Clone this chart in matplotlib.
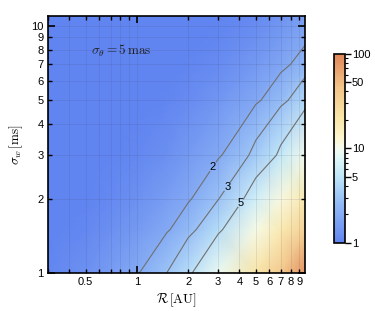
import numpy as np
import matplotlib
matplotlib.use('Agg')
import matplotlib.pyplot as plt
from matplotlib.colors import LinearSegmentedColormap, Normalize, LogNorm
from matplotlib.ticker import FixedLocator, FuncFormatter
import matplotlib.cm as cm

# Stuetzstellen
r_nodes = [0.3, 0.5, 0.7, 1.0, 1.5, 2.0, 3.0, 5.0, 7.0, 10.0]
sigma_nodes = [1.0, 1.5, 2.0, 3.0, 5.0, 7.0, 9.0, 11.0]
values = [
    [1.06, 1.26, 1.54, 1.93, 3.01, 4.49, 9.10, 21.0, 40.0, 89.0],
    [1.00, 1.09, 1.22, 1.48, 1.91, 2.58, 4.42, 10.6, 18.3, 34.9],
    [1.00, 1.03, 1.10, 1.25, 1.59, 1.90, 2.94, 6.27, 11.3, 20.3],
    [1.00, 1.00, 1.02, 1.08, 1.24, 1.47, 1.89, 3.33, 5.42, 10.3],
    [1.00, 1.00, 1.00, 1.00, 1.05, 1.14, 1.36, 1.87, 2.62, 4.20],
    [1.00, 1.00, 1.00, 1.00, 1.00, 1.05, 1.15, 1.45, 1.78, 2.45],
    [1.00, 1.00, 1.00, 1.00, 1.00, 1.00, 1.06, 1.22, 1.50, 1.88],
    [1.00, 1.00, 1.00, 1.00, 1.00, 1.00, 1.03, 1.12, 1.33, 1.62],
]
contour_levels = [2, 3, 5]
label_pos = [(2.88, 2.61), (3.38, 2.27), (4.09, 1.88)]
x_labels = {0.5: '0.5', 1: '1', 2: '2', 3: '3', 4: '4', 5: '5', 6: '6', 7: '7', 8: '8', 9: '9'}
y_labels = {1: '1', 2: '2', 3: '3', 4: '4', 5: '5', 6: '6', 7: '7', 8: '8', 9: '9', 10: '10'}
cbar_labels = {1: '1', 5: '5', 10: '10', 50: '50', 100: '100'}

# Farbskala aehnlich "TemperatureMap"
cmap = LinearSegmentedColormap.from_list('temp', [
    (0.00, '#6084f0'),
    (0.15, '#86acf4'),
    (0.24, '#9cc4f6'),
    (0.35, '#bfe6f8'),
    (0.45, '#e0f8f8'),
    (0.50, '#f4fbee'),
    (0.56, '#fdf5cc'),
    (0.66, '#f9e6a8'),
    (0.82, '#f2c68a'),
    (1.00, '#e08658'),
])

plt.rcParams['font.family'] = ['Liberation Sans', 'DejaVu Sans']
plt.rcParams['mathtext.fontset'] = 'cm'

fig = plt.figure(figsize=(3.75, 3.11), dpi=100)
ax = fig.add_axes([0.128, 0.122, 0.685, 0.827])

R, S = np.meshgrid(r_nodes, sigma_nodes)
V = np.array(values)
ax.pcolormesh(R, S, np.log10(V), shading='gouraud', cmap=cmap,
              norm=Normalize(0, 2), rasterized=True)

cs = ax.contour(R, S, V, levels=contour_levels, colors='#707070', linewidths=0.8)
labels = ax.clabel(cs, fmt='%g', fontsize=8, colors='black', inline=True,
                   inline_spacing=1, manual=label_pos)
for t in labels:
    t.set_rotation(0)

ax.set_xscale('log')
ax.set_yscale('log')
ax.set_xlim(0.3, 9.7)
ax.set_ylim(1, 11)

# Ticks
x_minor = [0.3, 0.4, 0.5, 0.6, 0.7, 0.8, 0.9, 2, 3, 4, 5, 6, 7, 8, 9]
y_minor = [2, 3, 4, 5, 6, 7, 8, 9]
ax.xaxis.set_major_locator(FixedLocator([1]))
ax.xaxis.set_minor_locator(FixedLocator(x_minor))
ax.yaxis.set_major_locator(FixedLocator([1, 10]))
ax.yaxis.set_minor_locator(FixedLocator(y_minor))
fmt_x = FuncFormatter(lambda v, p: next((t for k, t in x_labels.items() if abs(k - v) < 1e-6), ''))
fmt_y = FuncFormatter(lambda v, p: next((t for k, t in y_labels.items() if abs(k - v) < 1e-6), ''))
for axis, f in ((ax.xaxis, fmt_x), (ax.yaxis, fmt_y)):
    axis.set_major_formatter(f)
    axis.set_minor_formatter(f)
ax.tick_params(which='both', direction='in', top=True, right=True, labelsize=8,
               colors='black', pad=3)
ax.tick_params(which='major', length=5, width=1.2)
ax.tick_params(which='minor', length=3, width=1.0)

ax.grid(which='both', color='#404060', alpha=0.12, lw=0.7)
for sp in ax.spines.values():
    sp.set_linewidth(1.2)

ax.set_xlabel(r'$\mathcal{R}\,[\mathrm{AU}]$', fontsize=9.5, labelpad=3)
ax.set_ylabel(r'$\sigma_w\,[\mathrm{ms}]$', fontsize=9.5, labelpad=5)
ax.text(0.54, 7.9, r'$\sigma_\theta = 5\,\mathrm{mas}$', fontsize=9.5,
        color='#222222', va='center')

# Farbleiste
cax = fig.add_axes([0.891, 0.219, 0.029, 0.608])
sm = cm.ScalarMappable(norm=LogNorm(1, 100), cmap=cmap)
cbar = fig.colorbar(sm, cax=cax)
cbar.outline.set_linewidth(1.2)
cax.yaxis.set_major_locator(FixedLocator(list(cbar_labels.keys())))
cax.yaxis.set_major_formatter(FuncFormatter(lambda v, p: next((t for k, t in cbar_labels.items() if abs(k - v) < 1e-6), '')))
cax.yaxis.set_minor_locator(FixedLocator([2, 3, 4, 6, 7, 8, 9, 20, 30, 40, 60, 70, 80, 90]))
cax.yaxis.set_minor_formatter(FuncFormatter(lambda v, p: ''))
cax.tick_params(which='both', direction='out', labelsize=8, pad=1)
cax.tick_params(which='major', length=4, width=1.0)
cax.tick_params(which='minor', length=2.5, width=0.8)

fig.savefig('out.png', dpi=100)
